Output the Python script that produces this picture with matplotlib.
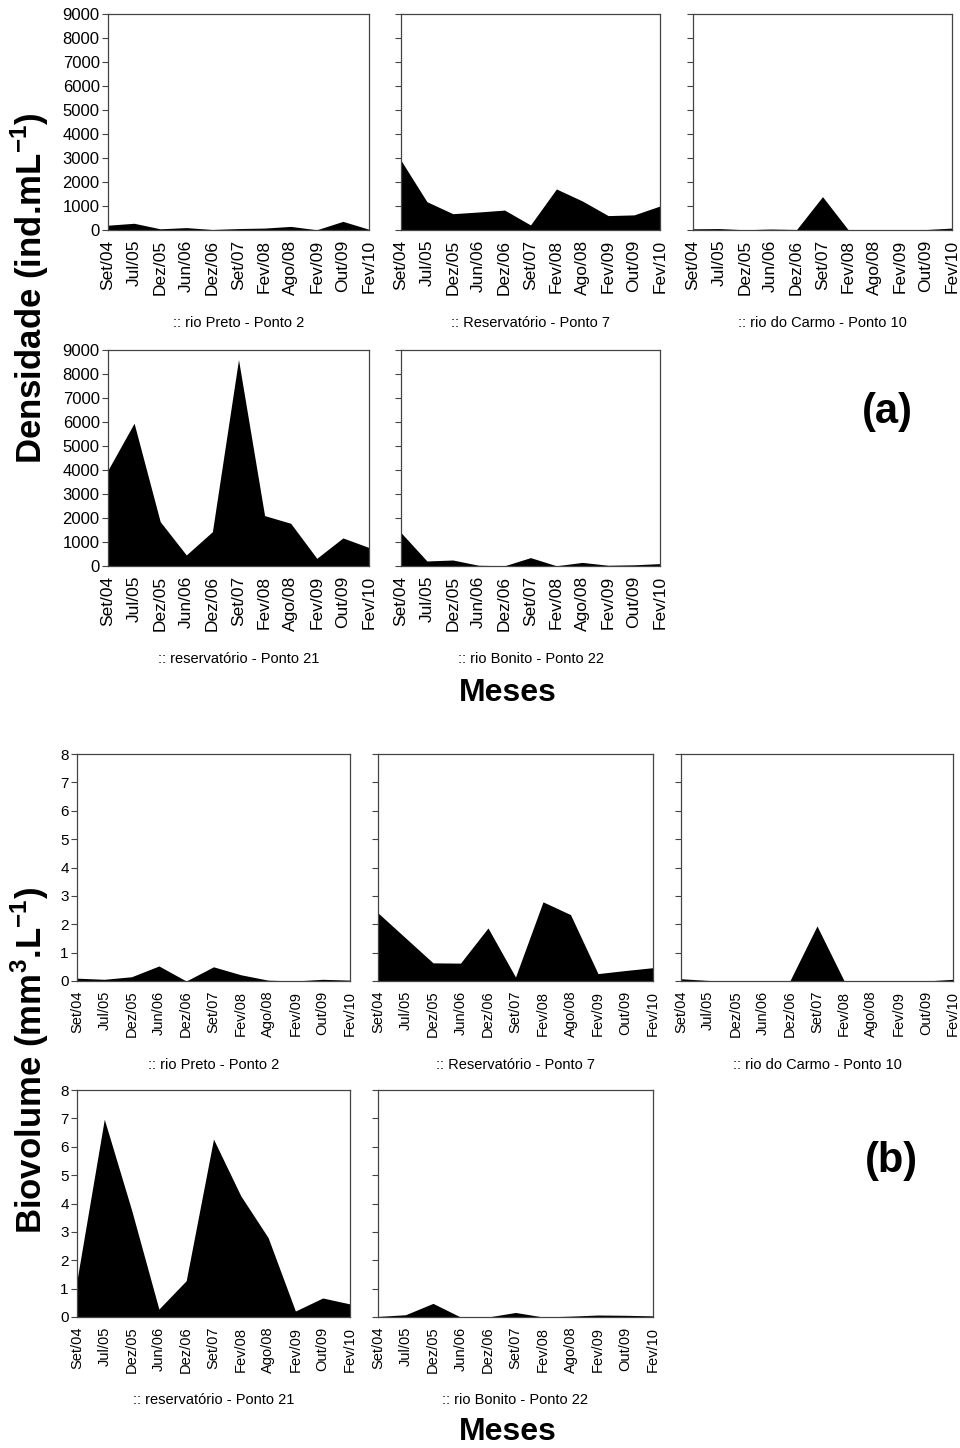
import matplotlib
matplotlib.use('Agg')
import matplotlib.pyplot as plt

plt.rcParams['font.family'] = ['Liberation Sans', 'DejaVu Sans']
plt.rcParams['mathtext.fontset'] = 'custom'
plt.rcParams['mathtext.rm'] = 'Liberation Sans'
plt.rcParams['mathtext.bf'] = 'Liberation Sans:bold'

months = ['Set/04', 'Jul/05', 'Dez/05', 'Jun/06', 'Dez/06', 'Set/07',
          'Fev/08', 'Ago/08', 'Fev/09', 'Out/09', 'Fev/10']
sites = [':: rio Preto - Ponto 2', ':: Reservatório - Ponto 7', ':: rio do Carmo - Ponto 10',
         ':: reservatório - Ponto 21', ':: rio Bonito - Ponto 22']

# densidade (ind/mL)
dens_p2 = [200, 280, 50, 100, 20, 60, 80, 150, 10, 360, 30]
dens_p7 = [2900, 1180, 680, 750, 830, 210, 1710, 1210, 600, 630, 1000]
dens_p10 = [50, 60, 10, 40, 20, 1390, 0, 10, 5, 20, 80]
dens_p21 = [4000, 5950, 1850, 460, 1430, 8600, 2100, 1780, 320, 1170, 770]
dens_p22 = [1390, 210, 250, 30, 10, 350, 10, 150, 30, 50, 100]

# biovolume (mm3/L)
bio_p2 = [0.10, 0.06, 0.15, 0.53, 0.0, 0.50, 0.22, 0.03, 0.0, 0.06, 0.03]
bio_p7 = [2.40, 1.52, 0.64, 0.63, 1.87, 0.14, 2.79, 2.34, 0.26, 0.37, 0.47]
bio_p10 = [0.08, 0.02, 0.0, 0.01, 0.0, 1.94, 0.0, 0.0, 0.0, 0.0, 0.06]
bio_p21 = [1.30, 6.97, 3.77, 0.28, 1.28, 6.27, 4.27, 2.80, 0.21, 0.67, 0.46]
bio_p22 = [0.02, 0.08, 0.48, 0.0, 0.0, 0.16, 0.0, 0.03, 0.07, 0.06, 0.04]

W, H = 960, 1448
fig = plt.figure(figsize=(W / 100, H / 100), dpi=100)


def px_axes(left, top, right, bottom):
    return fig.add_axes([left / W, 1 - bottom / H, (right - left) / W, (bottom - top) / H])


def px_text(x, y, s, **kw):
    fig.text(x / W, 1 - y / H, s, ha='center', va='center', **kw)


def area(ax, vals, ymax, ystep, show_y, yfs, xfs):
    x = list(range(len(months)))
    ax.fill_between(x, vals, 0, color='black', linewidth=0)
    ax.set_xlim(0, len(months) - 1)
    ax.set_ylim(0, ymax)
    ax.set_yticks(range(0, ymax + 1, ystep))
    ax.set_xticks(x)
    ax.set_xticklabels(months, rotation=90, fontsize=xfs)
    ax.set_xticks(x[1::2], minor=True)
    ax.tick_params(axis='x', which='major', length=0, pad=7)
    ax.tick_params(axis='x', which='minor', length=4, width=0.8, color='#444444')
    ax.tick_params(axis='y', length=4, width=0.8, color='#444444', labelsize=yfs, pad=2)
    if not show_y:
        ax.set_yticklabels([])
    for sp in ax.spines.values():
        sp.set_color('#444444')
        sp.set_linewidth(0.9)


# ---- (a) densidade ----
a_cols = [(108, 369), (401, 660), (693, 952)]
a_rows = [(14, 230), (350, 566)]
dens = [dens_p2, dens_p7, dens_p10, dens_p21, dens_p22]
sub_y_a = [323, 659]
for i, vals in enumerate(dens):
    r, c = divmod(i, 3)
    l, rr = a_cols[c]
    t, b = a_rows[r]
    ax = px_axes(l, t, rr, b)
    area(ax, vals, 9000, 1000, c == 0, 12, 12.5)
    px_text((l + rr) / 2, sub_y_a[r], sites[i], fontsize=10.5)

px_text(30, 288, 'Densidade (ind.mL$^{\\mathbf{-1}}$)', rotation=90, fontsize=25, fontweight='bold')
px_text(508, 693, 'Meses', fontsize=23, fontweight='bold')
px_text(887, 412, '(a)', fontsize=30, fontweight='bold')

# ---- (b) biovolume ----
b_cols = [(77, 350), (378, 653), (681, 953)]
b_rows = [(754, 981), (1090, 1317)]
bio = [bio_p2, bio_p7, bio_p10, bio_p21, bio_p22]
sub_y_b = [1065, 1400]
for i, vals in enumerate(bio):
    r, c = divmod(i, 3)
    l, rr = b_cols[c]
    t, b = b_rows[r]
    ax = px_axes(l, t, rr, b)
    area(ax, vals, 8, 1, c == 0, 11, 10.5)
    px_text((l + rr) / 2, sub_y_b[r], sites[i], fontsize=10.5)

px_text(30, 1060, 'Biovolume (mm$^{\\mathbf{3}}$.L$^{\\mathbf{-1}}$)', rotation=90, fontsize=25, fontweight='bold')
px_text(508, 1432, 'Meses', fontsize=23, fontweight='bold')
px_text(891, 1161, '(b)', fontsize=30, fontweight='bold')

fig.savefig('out.png', dpi=100)
